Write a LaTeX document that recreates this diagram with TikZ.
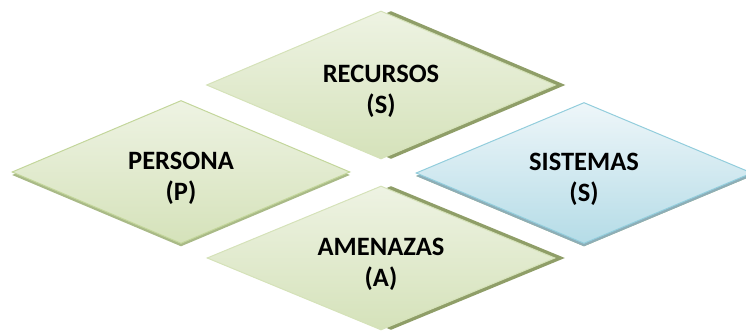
\documentclass[tikz,border=0pt]{standalone}
\usepackage{fontspec}
\setmainfont{Carlito}
\usetikzlibrary{positioning,shapes.geometric,shadows}

\definecolor{greentop}{HTML}{EEF3E3}
\definecolor{greenbot}{HTML}{D5E2BA}
\definecolor{greenline}{HTML}{C3D69B}
\definecolor{olivedark}{HTML}{8F9E68}
\definecolor{olivelight}{HTML}{A9BA87}
\definecolor{bluetop}{HTML}{EEF6F9}
\definecolor{bluebot}{HTML}{B5DCE7}
\definecolor{blueline}{HTML}{92CDDC}
\definecolor{bluedark}{HTML}{8DAEB8}

\tikzset{
    riskbox/.style={diamond, aspect=2.35, inner sep=0pt, align=center,
        font=\bfseries\fontsize{26.5}{31}\selectfont,
        text height=61pt,
        top color=greentop, bottom color=greenbot,
        draw=greenline, line width=1pt},
    deepbox/.style={riskbox, draw=greenline!70,
        general shadow={shadow xshift=10pt, fill=olivedark}},
    flatbox/.style={riskbox,
        general shadow={shadow yshift=-3pt, fill=olivelight}},
}

\begin{document}
\begin{tikzpicture}[x=1pt,y=1pt]
\useasboundingbox (0,0) rectangle (746,331);
\node[deepbox, minimum width=349pt, minimum height=148pt] (rec) at (381,246)
    {RECURSOS\\(S)};
\node[deepbox, minimum width=348pt, minimum height=144pt] (ame) at (381,73)
    {AMENAZAS\\(A)};
\node[flatbox, minimum width=338pt, minimum height=143pt] (per) at (181,159)
    {PERSONA\\(P)};
\node[flatbox, minimum width=336pt, minimum height=141pt,
    top color=bluetop, bottom color=bluebot, draw=blueline,
    general shadow={shadow yshift=-3pt, fill=bluedark}] (sis) at (584,158)
    {SISTEMAS\\(S)};
\end{tikzpicture}
\end{document}
